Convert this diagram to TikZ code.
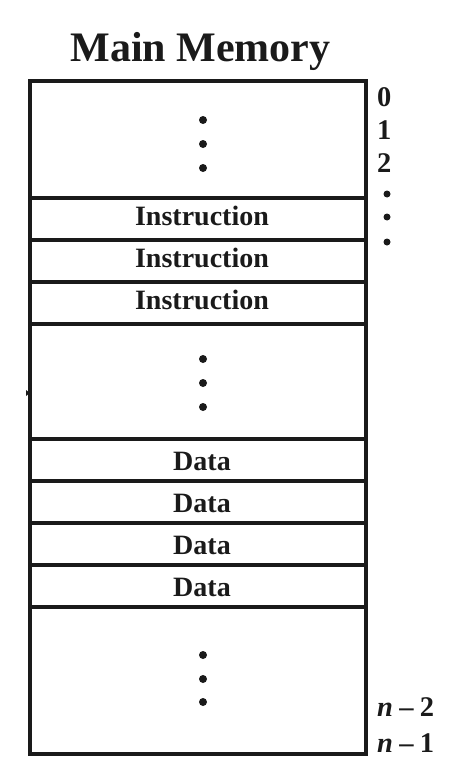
\documentclass[tikz,border=0pt]{standalone}
\usepackage{fontspec}
\setmainfont{Liberation Serif}
\usepackage{tikz}

\begin{document}
\begin{tikzpicture}
			[x=1pt,y=-1pt,line cap=rect,
			%Styles
			cell/.style={draw=memline,line width=3.6pt,minimum width=336pt,inner sep=0pt,outer sep=0pt},
			word/.style={anchor=base,inner sep=0pt,font=\fontsize{28}{32}\selectfont\bfseries,text=memline},
			address/.style={anchor=base west,inner sep=0pt,font=\fontsize{28.5}{32}\selectfont\bfseries,text=memline},
			dot/.style={circle,inner sep=0pt,minimum size=#1,fill=memline}
			]
			
			%Colors
			\definecolor{memline}{HTML}{1A1A1A}	%lines and text
			
			\useasboundingbox (0,0) rectangle (450,784);
			
			%The graphic
			\node[anchor=base,font=\fontsize{42}{48}\selectfont\bfseries,text=memline] (title) at (200.5,62) {Main Memory};
			
			\node[cell,minimum height=117pt] (top) at (198,139.5) {};
			\foreach \i/\y in {1/219,2/261,3/303} {
				\node[cell,minimum height=42pt] (instr\i) at (198,\y) {};
				\node[word] (instrtext\i) at ([xshift=4pt,yshift=-6pt]instr\i.center) {Instruction};
			}
			\node[cell,minimum height=115pt] (gap) at (198,381.5) {};
			\foreach \i/\y in {1/460,2/502,3/544,4/586} {
				\node[cell,minimum height=42pt] (data\i) at (198,\y) {};
				\node[word] (datatext\i) at ([xshift=4pt,yshift=-10pt]data\i.center) {Data};
			}
			\node[cell,minimum height=147pt] (bottom) at (198,680.5) {};
			
			%vertical dots
			\foreach \y in {120,144,168,359,383,407,655,679,702}
				\node[dot=8pt] at (203,\y) {};
			\foreach \y in {194,217,242}
				\node[dot=7pt] at (387,\y) {};
			
			%addresses
			\node[address] (a0) at (377,106) {0};
			\node[address] (a1) at (377,139) {1};
			\node[address] (a2) at (377,172) {2};
			\node[address] (an2) at (377,716) {\textit{n}\hspace{0.22em}–\hspace{0.22em}2};
			\node[address] (an1) at (377,752) {\textit{n}\hspace{0.22em}–\hspace{0.22em}1};
			
			%stray tip on the left edge
			\fill[memline] (top.west |- 0,390) ++(-4,0) -- ++(4,3) -- ++(-4,3) -- cycle;
		\end{tikzpicture}
\end{document}
